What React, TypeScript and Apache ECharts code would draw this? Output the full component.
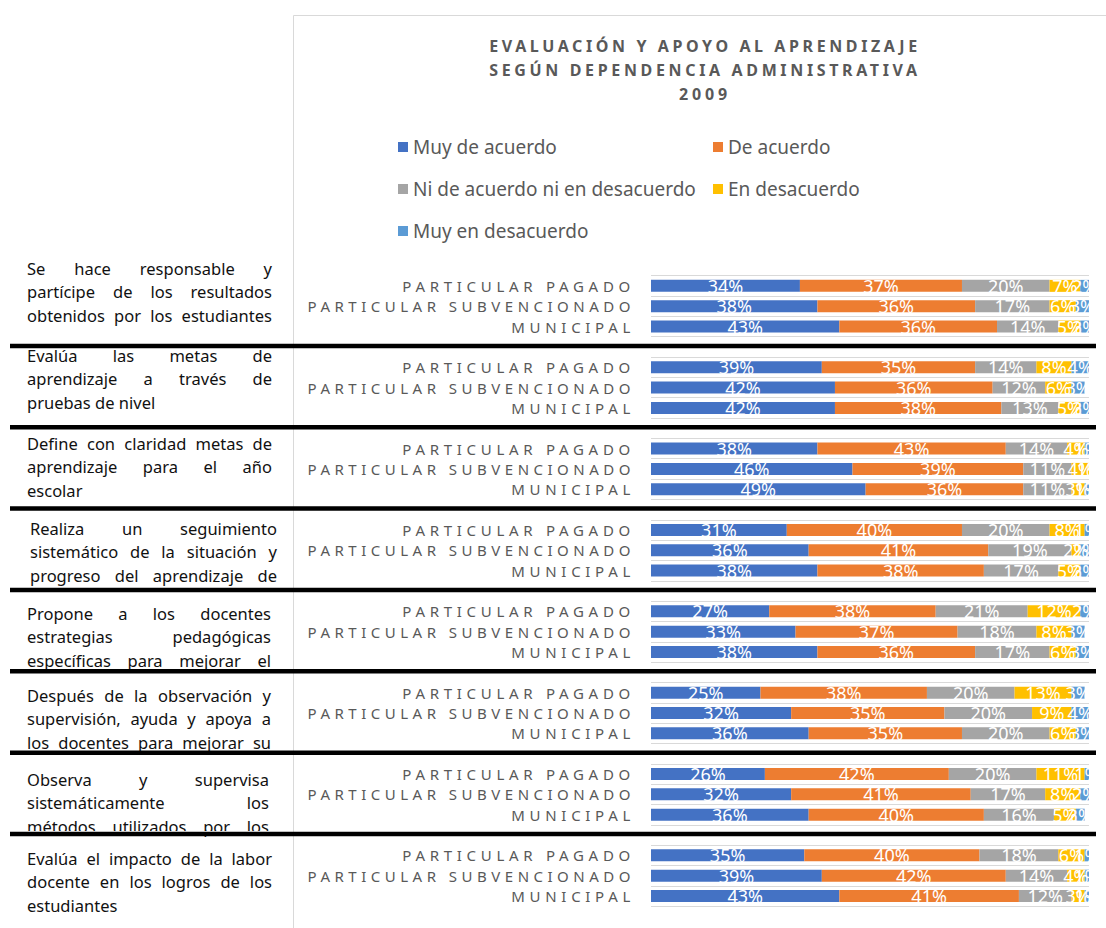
import { useEffect, useRef } from 'react';
import * as echarts from 'echarts';

const FONT = '"Noto Sans", "DejaVu Sans", sans-serif';

// ---- data ----
const seriesNames = [
  'Muy de acuerdo',
  'De acuerdo',
  'Ni de acuerdo ni en desacuerdo',
  'En desacuerdo',
  'Muy en desacuerdo',
];
const seriesColors = ['#4472C4', '#ED7D31', '#A5A5A5', '#FFC000', '#5B9BD5'];

const dependencias = ['PARTICULAR PAGADO', 'PARTICULAR SUBVENCIONADO', 'MUNICIPAL'];

// 8 indicators x 3 dependencias (PP, PS, M)
const muyDeAcuerdo = [34, 38, 43, 39, 42, 42, 38, 46, 49, 31, 36, 38, 27, 33, 38, 25, 32, 36, 26, 32, 36, 35, 39, 43];
const deAcuerdo = [37, 36, 36, 35, 36, 38, 43, 39, 36, 40, 41, 38, 38, 37, 36, 38, 35, 35, 42, 41, 40, 40, 42, 41];
const niDeAcuerdoNiEnDesacuerdo = [20, 17, 14, 14, 12, 13, 14, 11, 11, 20, 19, 17, 21, 18, 17, 20, 20, 20, 20, 17, 16, 18, 14, 12];
const enDesacuerdo = [7, 6, 5, 8, 6, 5, 4, 4, 3, 8, 2, 5, 12, 8, 6, 13, 9, 6, 11, 8, 5, 6, 4, 3];
const muyEnDesacuerdo = [2, 3, 2, 4, 3, 2, 1, 1, 1, 1, 2, 2, 2, 3, 3, 3, 4, 3, 1, 2, 2, 1, 1, 1];

const seriesValues = [muyDeAcuerdo, deAcuerdo, niDeAcuerdoNiEnDesacuerdo, enDesacuerdo, muyEnDesacuerdo];

const titleLines = ['EVALUACIÓN Y APOYO AL APRENDIZAJE', 'SEGÚN DEPENDENCIA ADMINISTRATIVA', '2009'];

const indicatorTexts = [
  ['Se hace responsable y', 'partícipe de los resultados', 'obtenidos por los estudiantes'],
  ['Evalúa las metas de', 'aprendizaje a través de', 'pruebas de nivel'],
  ['Define con claridad metas de', 'aprendizaje para el año', 'escolar'],
  ['Realiza un seguimiento', 'sistemático de la situación y', 'progreso del aprendizaje de'],
  ['Propone a los docentes', 'estrategias pedagógicas', 'específicas para mejorar el'],
  ['Después de la observación y', 'supervisión, ayuda y apoya a', 'los docentes para mejorar su'],
  ['Observa y supervisa', 'sistemáticamente los', 'métodos utilizados por los'],
  ['Evalúa el impacto de la labor', 'docente en los logros de los', 'estudiantes'],
];
// whether the last line of each paragraph is justified
const lastLineJustified = [true, false, false, true, true, true, true, false];

// ---- layout constants ----
const W = 1106;
const H = 928;
const GRID_LEFT = 651;
const GRID_RIGHT_X = 1089;
const GRID_TOP = 275.7;
const GRID_BOTTOM_Y = 906.2;
const NGROUPS = 8;
const NROWS = NGROUPS * 4 - 1;
const BAND = (GRID_BOTTOM_Y - GRID_TOP) / NROWS;

const paraTop = [268, 355, 443, 528, 613, 695, 779, 858];
const paraX0 = [27, 27, 27, 30, 27, 27, 27, 27];
const paraX1 = [272, 272, 272, 277, 271, 271, 269, 272];
const PARA_STEP = 23.7;

const LETTER_TARGETS: Record<string, number> = {
  'PARTICULAR PAGADO': 228,
  'PARTICULAR SUBVENCIONADO': 323,
  MUNICIPAL: 119,
  'EVALUACIÓN Y APOYO AL APRENDIZAJE': 428,
  'SEGÚN DEPENDENCIA ADMINISTRATIVA': 428,
  '2009': 48,
};

const WORD_TARGETS: Record<string, number> = {};
indicatorTexts.forEach((lines, g) => {
  lines.forEach((ln, i) => {
    if (i < lines.length - 1 || lastLineJustified[g]) WORD_TARGETS[ln] = paraX1[g] - paraX0[g];
  });
});

function expand(vals: number[]): (number | null)[] {
  const out: (number | null)[] = [];
  for (let g = 0; g < NGROUPS; g++) {
    out.push(vals[g * 3], vals[g * 3 + 1], vals[g * 3 + 2]);
    if (g < NGROUPS - 1) out.push(null);
  }
  return out;
}

function categories(): string[] {
  const out: string[] = [];
  for (let g = 0; g < NGROUPS; g++) {
    out.push(...dependencias);
    if (g < NGROUPS - 1) out.push('');
  }
  return out;
}

function tuneTexts(root: HTMLElement) {
  root.querySelectorAll('text').forEach((node) => {
    const t = node as SVGTextElement;
    if (t.getAttribute('data-tuned')) return;
    const s = t.textContent || '';
    const lt = LETTER_TARGETS[s];
    const wt = WORD_TARGETS[s];
    if (lt == null && wt == null) return;
    const len = t.getComputedTextLength();
    if (!len) return;
    if (lt != null) {
      const sp = (lt - len) / Math.max(1, s.length - 1);
      t.style.letterSpacing = sp.toFixed(2) + 'px';
    } else {
      const spaces = (s.match(/ /g) || []).length;
      if (spaces) t.style.wordSpacing = ((wt - len) / spaces).toFixed(2) + 'px';
    }
    t.setAttribute('data-tuned', '1');
  });
}

function buildGraphic(): any[] {
  const els: any[] = [];
  // chart frame
  els.push({
    type: 'line', silent: true, z: 1,
    shape: { x1: 293.5, y1: 15.5, x2: 293.5, y2: H },
    style: { stroke: '#D9D9D9', lineWidth: 1 },
  });
  els.push({
    type: 'line', silent: true, z: 1,
    shape: { x1: 293.5, y1: 15.5, x2: W, y2: 15.5 },
    style: { stroke: '#D9D9D9', lineWidth: 1 },
  });
  // title
  titleLines.forEach((t, i) => {
    els.push({
      type: 'text', silent: true, z: 10,
      style: {
        text: t, x: 705, y: 46 + i * 24,
        fill: '#595959', fontSize: 16, fontWeight: 'bold', fontFamily: FONT,
        textAlign: 'center', textVerticalAlign: 'middle', align: 'center', verticalAlign: 'middle',
      },
    });
  });
  // indicator paragraphs
  indicatorTexts.forEach((lines, g) => {
    lines.forEach((ln, i) => {
      els.push({
        type: 'text', silent: true, z: 10,
        style: {
          text: ln, x: paraX0[g], y: paraTop[g] + i * PARA_STEP,
          fill: '#111111', fontSize: 16.5, fontFamily: FONT,
          textAlign: 'left', textVerticalAlign: 'middle', align: 'left', verticalAlign: 'middle',
        },
      });
    });
  });
  // clipped bottom of one paragraph
  els.push({
    type: 'rect', silent: true, z: 11,
    shape: { x: 10, y: 831, width: 282, height: 4 },
    style: { fill: '#ffffff' },
  });
  // black separators in spacer rows
  for (let g = 0; g < NGROUPS - 1; g++) {
    const idx = g * 4 + 3;
    const y = GRID_TOP + (idx + 0.5) * BAND - 1;
    els.push({
      type: 'line', silent: true, z: 20,
      shape: { x1: 10, y1: y, x2: 1096, y2: y },
      style: { stroke: '#000000', lineWidth: 4.5 },
    });
  }
  return els;
}

export default function App() {
  const ref = useRef<HTMLDivElement>(null);

  useEffect(() => {
    const el = ref.current;
    if (!el) return;
    const chart = echarts.init(el, null, { renderer: 'svg' });

    const legendCommon = {
      orient: 'vertical',
      padding: 0,
      itemGap: 20,
      itemWidth: 10,
      itemHeight: 10,
      icon: 'rect',
      selectedMode: false,
      top: 136,
      textStyle: { color: '#595959', fontSize: 19, fontFamily: FONT, lineHeight: 22 },
    };

    const option: any = {
      animation: false,
      backgroundColor: '#ffffff',
      textStyle: { fontFamily: FONT },
      legend: [
        { ...legendCommon, left: 398, data: [seriesNames[0], seriesNames[2], seriesNames[4]] },
        { ...legendCommon, left: 713, data: [seriesNames[1], seriesNames[3]] },
      ],
      grid: {
        left: GRID_LEFT,
        right: W - GRID_RIGHT_X,
        top: GRID_TOP,
        bottom: H - GRID_BOTTOM_Y,
        containLabel: false,
      },
      xAxis: {
        type: 'value',
        min: 0,
        max: 100,
        show: false,
      },
      yAxis: {
        type: 'category',
        inverse: true,
        data: categories(),
        axisLine: { show: false },
        axisTick: { show: false },
        axisLabel: {
          interval: 0,
          margin: 16,
          color: '#595959',
          fontSize: 15,
          fontFamily: FONT,
        },
        splitLine: { show: true, interval: 0, lineStyle: { color: '#D9D9D9', width: 1 } },
      },
      series: seriesNames.map((name, i) => ({
        name,
        type: 'bar',
        stack: 'total',
        barWidth: 12,
        itemStyle: { color: seriesColors[i] },
        label: {
          show: true,
          position: 'inside',
          color: '#ffffff',
          fontSize: 18,
          fontFamily: FONT,
          textBorderWidth: 0,
          formatter: '{c}%',
        },
        data: expand(seriesValues[i]),
      })),
      graphic: buildGraphic(),
    };

    const tune = () => tuneTexts(el);
    chart.on('finished', tune);
    chart.setOption(option);
    tune();
    const r = requestAnimationFrame(tune);
    const tm = setTimeout(tune, 60);

    return () => {
      cancelAnimationFrame(r);
      clearTimeout(tm);
      chart.dispose();
    };
  }, []);

  return (
    <div
      ref={ref}
      style={{ position: 'absolute', left: 0, top: 0, width: W, height: H, background: '#fff' }}
    />
  );
}
